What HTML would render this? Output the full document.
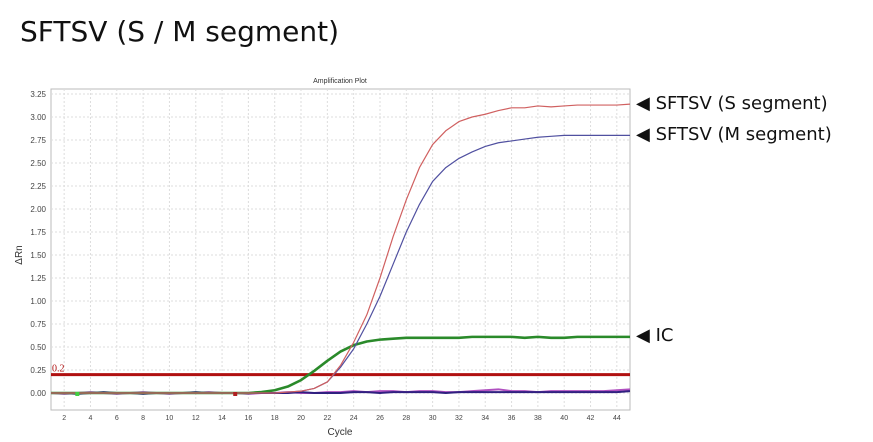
<!DOCTYPE html>
<html><head><meta charset="utf-8"><style>
body{margin:0;width:873px;height:442px;background:#fff;overflow:hidden;font-family:"Liberation Sans",sans-serif}
#t{position:absolute;left:20px;top:15px;font-size:28px;color:#111;font-family:"DejaVu Sans",sans-serif}
.lab{position:absolute;left:636px;font-size:18px;color:#111;font-family:"DejaVu Sans",sans-serif}
</style></head><body>
<div id="t">SFTSV (S / M segment)</div>
<div class="lab" style="top:93px">◀ SFTSV (S segment)</div>
<div class="lab" style="top:124px">◀ SFTSV (M segment)</div>
<div class="lab" style="top:325px">◀ IC</div>
<svg id="c" width="873" height="442" style="position:absolute;left:0;top:0"></svg>
<script>
const cycles=[];for(let i=1;i<=45;i++)cycles.push(i);
const sSeg=[0,0,0,0,0,0,0,0,0,0,0,0,0,0,0,0,0,0,0.01,0.02,0.05,0.12,0.3,0.55,0.85,1.25,1.7,2.1,2.45,2.7,2.85,2.95,3.0,3.03,3.07,3.1,3.1,3.12,3.11,3.12,3.13,3.13,3.13,3.13,3.14];
const mSeg=[0,0,0,0,0,0,0,0,0,0,0,0,0,0,0,0,0,0,0.01,0.02,0.05,0.12,0.28,0.48,0.75,1.05,1.4,1.75,2.05,2.3,2.45,2.55,2.62,2.68,2.72,2.74,2.76,2.78,2.79,2.8,2.8,2.8,2.8,2.8,2.8];
const icSeg=[0,0,0,0,0,0,0,0,0,0,0,0,0,0,0,0,0.01,0.03,0.07,0.14,0.24,0.35,0.45,0.52,0.56,0.58,0.59,0.6,0.6,0.6,0.6,0.6,0.61,0.61,0.61,0.61,0.6,0.61,0.6,0.6,0.61,0.61,0.61,0.61,0.61];
const base1=[0,-0.01,0,0.01,0,-0.01,0,0.01,0,-0.01,0,0,0.01,0,0,-0.01,0,0,0.01,0,0,0.01,0.01,0.02,0.01,0.02,0.02,0.01,0.02,0.02,0.01,0.01,0.02,0.03,0.04,0.02,0.02,0.01,0.02,0.02,0.02,0.02,0.02,0.03,0.04];
const base2=[0,0,-0.01,0,0.01,0,0,-0.01,0,0,0,0.01,0,0,0,0,0,0,0,0.01,0,0,0,0.01,0.01,0,0.01,0.01,0.01,0.01,0,0.01,0.01,0.01,0.01,0.01,0.01,0.01,0.01,0.01,0.01,0.01,0.01,0.01,0.02];
const yTicks=[0,0.25,0.5,0.75,1.0,1.25,1.5,1.75,2.0,2.25,2.5,2.75,3.0,3.25];
const xTicks=[2,4,6,8,10,12,14,16,18,20,22,24,26,28,30,32,34,36,38,40,42,44];
const threshold=0.2;
const L=51,R=630,T=89,B=410;
const x=c=>L+(c-1)*(R-L)/44;
const y=v=>393-v*92;
const svg=document.getElementById('c');const NS='http://www.w3.org/2000/svg';
function el(t,a,txt){const e=document.createElementNS(NS,t);for(const k in a)e.setAttribute(k,a[k]);if(txt!=null)e.textContent=txt;svg.appendChild(e);return e;}
let f=el('rect',{x:L,y:T,width:R-L,height:B-T,fill:'#fff',stroke:'#bbb'});


yTicks.forEach(v=>{let g=el('line',{x1:L,x2:R,y1:y(v),y2:y(v),stroke:'#ddd','stroke-dasharray':'2,2'});


let t=el('text',{x:46,y:y(v)+3,'font-size':8,'text-anchor':'end',fill:'#444'},v.toFixed(2));

});
xTicks.forEach(c=>{let g=el('line',{x1:x(c),x2:x(c),y1:T,y2:B,stroke:'#ddd','stroke-dasharray':'2,2'});


let t=el('text',{x:x(c),y:B+10,'font-size':7,'text-anchor':'middle',fill:'#444'},c);

});
let a=el('text',{x:340,y:435,'font-size':10,'text-anchor':'middle',fill:'#333'},'Cycle');


let b=el('text',{x:22,y:255,'font-size':10,'text-anchor':'middle',fill:'#333',transform:'rotate(-90 22 255)'},'ΔRn');


let ct=el('text',{x:340,y:83,'font-size':7,'text-anchor':'middle',fill:'#333'},'Amplification Plot');


function line(d,col,w,name){const p=el('polyline',{points:d.map((v,i)=>x(cycles[i])+','+y(v)).join(' '),fill:'none',stroke:col,'stroke-width':w,'stroke-linejoin':'round'});

}
line(base1,'#b050c0',2,'baseline-purple');
line(base2,'#302080',2,'baseline-navy');
let th=el('line',{x1:L,x2:R,y1:y(threshold),y2:y(threshold),stroke:'#b01010','stroke-width':3});


let tl=el('text',{x:L+1,y:y(threshold)-3,'font-size':10,fill:'#b01010','font-family':'Liberation Serif'},'0.2');


line(icSeg,'#2a8a2a',2.6,'series-ic');
line(mSeg,'#5050a0',1.2,'series-m-segment');
line(sSeg,'#d06060',1.2,'series-s-segment');
let m1=el('rect',{x:x(3)-2,y:y(0)-1,width:4,height:4,fill:'#40d040'});


let m2=el('rect',{x:x(15)-2,y:y(0)-1,width:4,height:4,fill:'#b02020'});


</script>
</body></html>
